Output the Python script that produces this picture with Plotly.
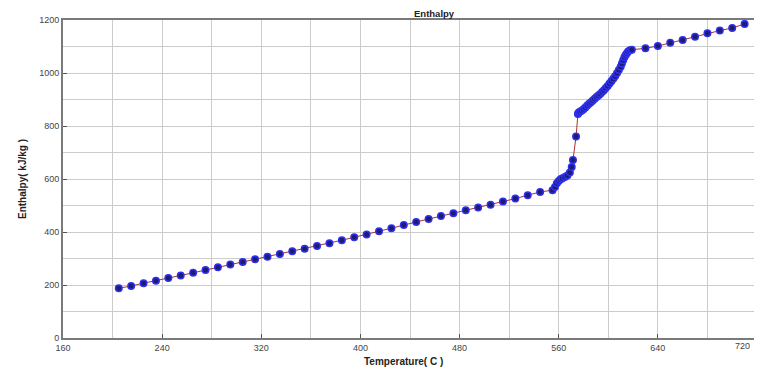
import plotly.graph_objects as go

# Temperature (C) and enthalpy (kJ/kg)
temp_low = [205, 215, 225, 235, 245, 255, 265, 275, 285, 295, 305, 315, 325, 335, 345,
            355, 365, 375, 385, 395, 405, 415, 425, 435, 445, 455, 465, 475, 485, 495,
            505, 515, 525, 535, 545, 555]
enth_low = [188, 196, 207, 216, 226, 236, 246, 257, 267, 277, 287, 297, 307, 317, 327,
            337, 347, 358, 369, 380, 391, 403, 414, 426, 438, 449, 460, 471, 482, 492,
            503, 515, 526, 539, 551, 558]

temp_mid = [557, 558.5, 560, 561.5, 563, 565, 567, 569, 570.5, 571.5, 574, 575.5,
            576, 577, 578.5, 580, 581.5, 583, 584.5, 586, 587.5, 589, 590.5, 592, 593.5,
            595, 596.5, 598, 599.5, 601, 602.5, 604, 605.5, 607, 608.5, 610, 611, 612,
            613, 614, 615, 616, 617.5, 619]
enth_mid = [570, 584, 592, 599, 603, 608, 613, 625, 645, 672, 760, 845,
            850, 854, 858, 863, 870, 877, 884, 890, 896, 903, 909, 915, 921,
            928, 935, 943, 951, 960, 969, 978, 988, 999, 1011, 1024, 1036, 1048,
            1059, 1068, 1075, 1081, 1086, 1088]

temp_high = [630, 640, 650, 660, 670, 680, 690, 700, 710]
enth_high = [1093, 1102, 1114, 1125, 1137, 1150, 1160, 1170, 1185]

temperature = temp_low + temp_mid + temp_high
enthalpy = enth_low + enth_mid + enth_high

x_ticks = [160, 240, 320, 400, 480, 560, 640, 720]
y_ticks = [0, 200, 400, 600, 800, 1000, 1200]

fig = go.Figure()
fig.add_trace(go.Scatter(
    x=temperature, y=enthalpy, mode="lines+markers",
    line=dict(color="#b03030", width=1),
    marker=dict(size=6.5, color="#1c1c72", line=dict(color="#3030f0", width=1.5)),
    showlegend=False,
))

font = "Liberation Sans, Arial, sans-serif"
tickfont = dict(family=font, size=9, color="#444")
axis_common = dict(
    showline=True, linecolor="#7a7a7a", linewidth=2, mirror=True,
    ticks="inside", ticklen=4, tickcolor="#555",
    showgrid=True, gridcolor="#cccccc", gridwidth=1,
    zeroline=False, automargin=False,
    tickfont=tickfont,
)
# last x tick label is drawn as an annotation so it stays inside the window
fig.update_xaxes(range=[160, 720], tickvals=x_ticks,
                 ticktext=[str(v) for v in x_ticks[:-1]] + [""],
                 minor=dict(dtick=40, tick0=160, showgrid=True, gridcolor="#cccccc", ticks=""),
                 **axis_common)
fig.update_yaxes(range=[0, 1200], tickvals=y_ticks,
                 minor=dict(dtick=100, tick0=0, showgrid=True, gridcolor="#cccccc", ticks=""),
                 **axis_common)

fig.add_annotation(text=str(x_ticks[-1]), x=x_ticks[-1], xref="x", y=0, yref="paper",
                   yanchor="top", xanchor="center", xshift=-15, yshift=-1,
                   showarrow=False, font=tickfont)
fig.add_annotation(text="<b>Temperature( C )</b>", x=0.49, xref="paper", y=0, yref="paper",
                   yanchor="top", yshift=-16, showarrow=False,
                   font=dict(family=font, size=10, color="#222"))
fig.add_annotation(text="<b>Enthalpy( kJ/kg )</b>", x=0, xref="paper", y=0.5, yref="paper",
                   textangle=-90, xanchor="center", xshift=-41, showarrow=False,
                   font=dict(family=font, size=10, color="#222"))
fig.add_annotation(text="<b>Enthalpy</b>", x=0.535, xref="paper", y=1, yref="paper",
                   yanchor="bottom", xanchor="center", yshift=0, borderpad=0,
                   showarrow=False,
                   font=dict(family=font, size=9.5, color="#222"))

fig.update_layout(
    width=754, height=363,
    margin=dict(l=55, r=5, t=12, b=33),
    paper_bgcolor="white", plot_bgcolor="white",
)

fig.write_html("out.html")
